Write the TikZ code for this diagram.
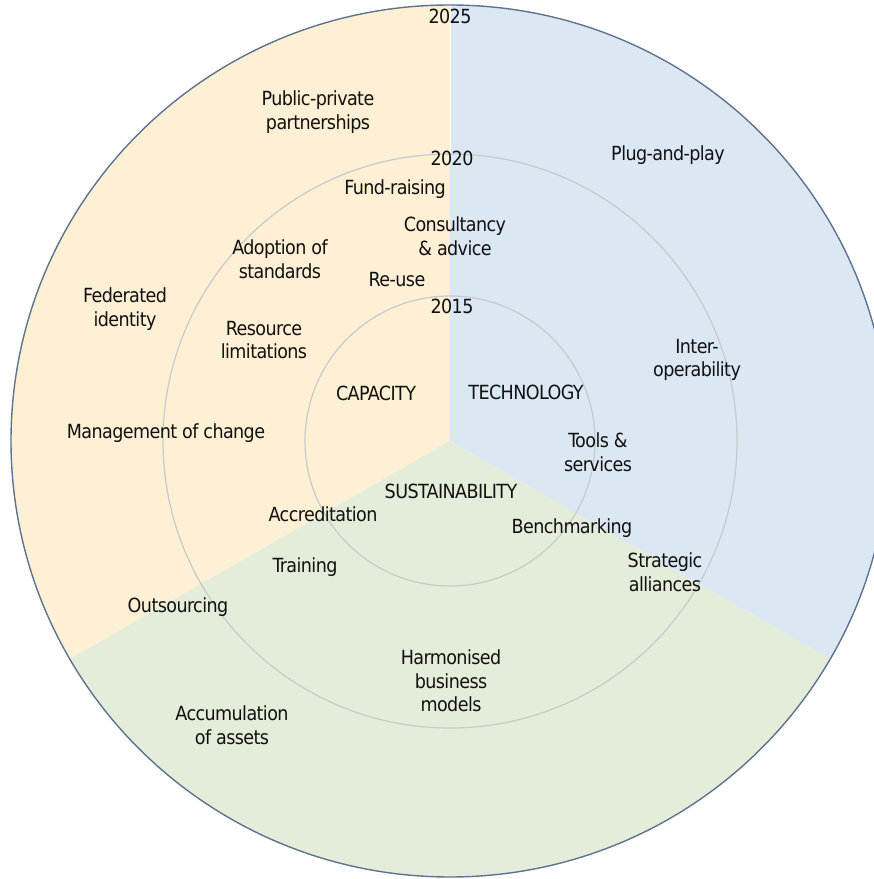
\documentclass[tikz,border=0pt]{standalone}
\usepackage{fontspec}
\setmainfont{DejaVu Sans Condensed}[LetterSpace=-3]
\definecolor{capfill}{HTML}{FDF0D4}
\definecolor{techfill}{HTML}{DCE7F4}
\definecolor{susfill}{HTML}{E3EDD9}
\definecolor{outerline}{HTML}{5E7390}
\definecolor{innerline}{HTML}{C6CACC}
\definecolor{txt}{HTML}{111111}
\tikzset{
  lbl/.style={align=center, inner sep=0pt, text=txt, font=\fontsize{19.5}{23.5}\selectfont},
  ring/.style={draw=innerline, line width=1.2pt},
}
\begin{document}
\begin{tikzpicture}[x=1pt,y=1pt]
\useasboundingbox (0,0) rectangle (874,879);
\clip (0,0) rectangle (874,879);
\coordinate (c) at (450,438);
\fill[capfill] (c) -- ++(90:436) arc[start angle=90, end angle=210, x radius=439, y radius=436] -- cycle;
\fill[techfill] (c) -- ++(90:436) arc[start angle=90, end angle=-30, x radius=439, y radius=436] -- cycle;
\fill[susfill] (c) -- ++({439*cos(210)},{436*sin(210)}) arc[start angle=210, end angle=330, x radius=439, y radius=436] -- cycle;
\draw[white, line width=1pt] (450,725) -- (450,879);
\draw[ring] (c) circle (287);
\draw[ring] (c) circle (145);
\draw[outerline, line width=1.4pt] (c) ellipse [x radius=439, y radius=436];
\node[lbl] (y2025) at (450,863) {2025};
\node[lbl] (ppp) at (318,767) {Public-private\\partnerships};
\node[lbl] (plug) at (668,724) {Plug-and-play};
\node[lbl] (y2020) at (452,721) {2020};
\node[lbl] (fund) at (395,690) {Fund-raising};
\node[lbl] (consult) at (455,643) {Consultancy\\\& advice};
\node[lbl] (adopt) at (280,620) {Adoption of\\standards};
\node[lbl] (reuse) at (397,599) {Re-use};
\node[lbl] (y2015) at (452,573) {2015};
\node[lbl] (fed) at (125,570) {Federated\\identity};
\node[lbl] (res) at (264,539) {Resource\\limitations};
\node[lbl] (inter) at (697,519) {Inter-\\operability};
\node[lbl] (cap) at (376,486) {CAPACITY};
\node[lbl] (tech) at (526,487) {TECHNOLOGY};
\node[lbl] (mgmt) at (166,446) {Management of change};
\node[lbl] (tools) at (598,427) {Tools \&\\services};
\node[lbl] (sust) at (451,388) {SUSTAINABILITY};
\node[lbl] (accr) at (323,365) {Accreditation};
\node[lbl] (bench) at (572,351) {Benchmarking};
\node[lbl] (strat) at (665,307) {Strategic\\alliances};
\node[lbl] (train) at (305,312) {Training};
\node[lbl] (outs) at (178,272) {Outsourcing};
\node[lbl] (harm) at (451,198) {Harmonised\\business\\models};
\node[lbl] (accum) at (232,154) {Accumulation\\of assets};
\end{tikzpicture}
\end{document}
